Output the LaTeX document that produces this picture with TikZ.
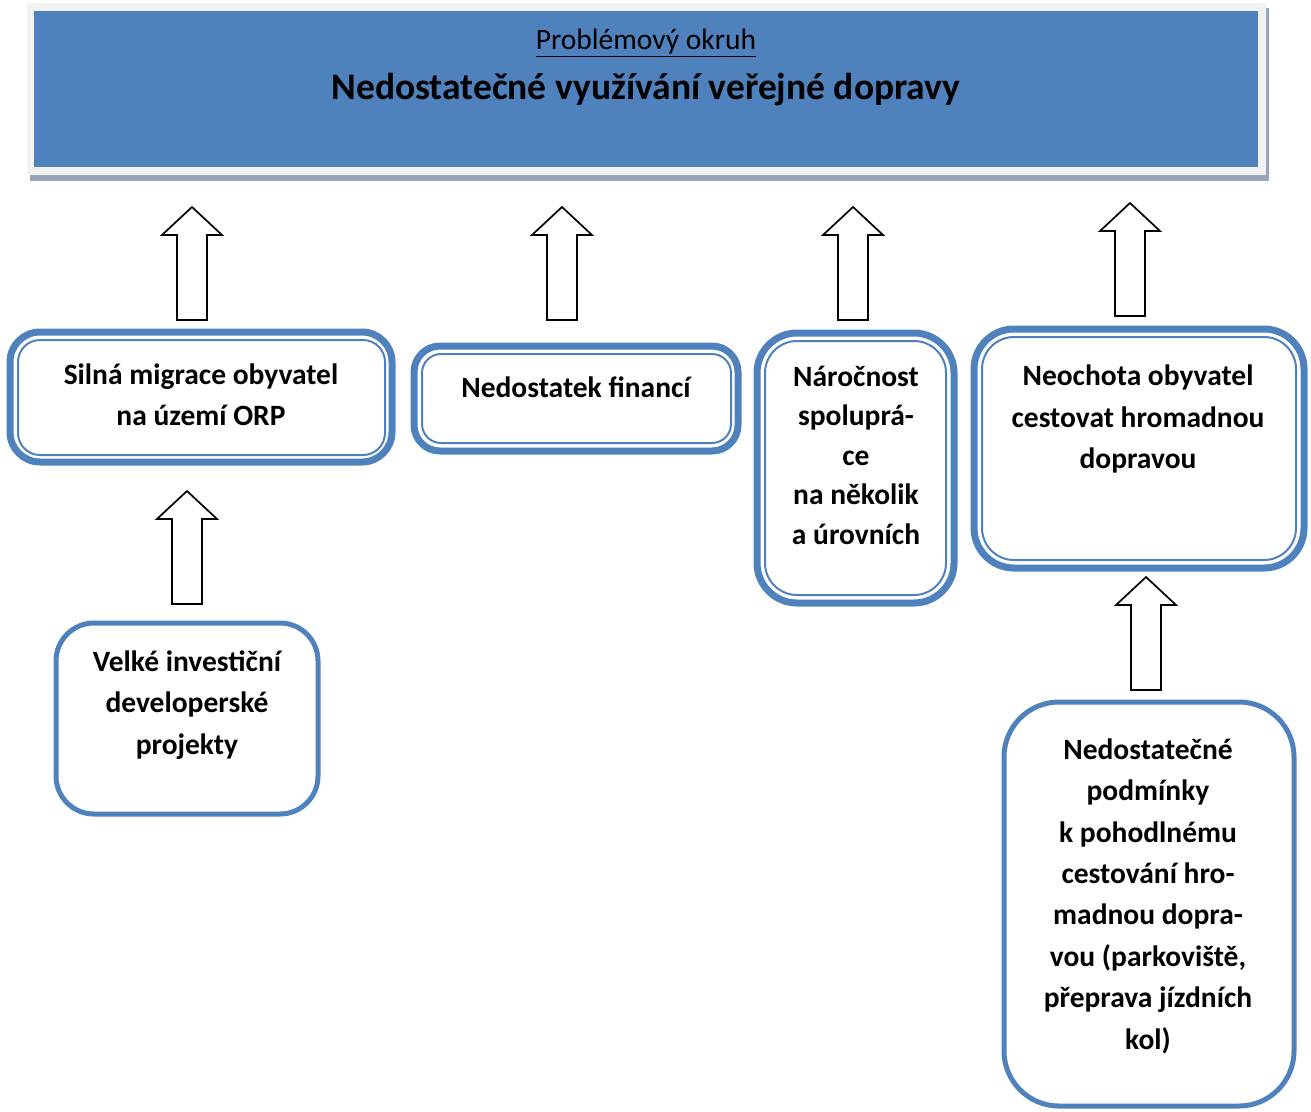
\documentclass[tikz,border=0pt]{standalone}
\usepackage{fontspec}
\setmainfont{Carlito}
\definecolor{boxblue}{HTML}{4F81BD}
\definecolor{bannergray}{HTML}{F2F2F2}
\definecolor{shadowgray}{HTML}{98A6B9}
\begin{document}
\begin{tikzpicture}[x=1pt,y=-1pt,
  thickline/.style={draw=boxblue, line width=7pt},
  thinline/.style={draw=boxblue, line width=2pt},
  singleline/.style={draw=boxblue, line width=5pt},
  boxtext/.style={align=center, inner sep=0pt, font=\bfseries\fontsize{29.5}{41.4}\selectfont},
  uparrow/.pic={\draw[fill=white, line width=1.7pt, line join=miter]
     (-15,0) -- (-15,-85) -- (-30,-85) -- (0,-113) -- (30,-85) -- (15,-85) -- (15,0) -- cycle;}
]
\useasboundingbox (0,0) rectangle (1311,1111);
% banner
\fill[shadowgray] (30,8) rectangle (1269,181);
\fill[bannergray] (27,3) rectangle (1266,175);
\fill[boxblue] (34,11) rectangle (1258,167);
\node[inner sep=0pt, font=\fontsize{29.5}{34}\selectfont] (label) at (646,43) {\underline{Problémový okruh}};
\node[inner sep=0pt, font=\bfseries\fontsize{37.5}{42}\selectfont] (title) at (646,90) {Nedostatečné využívání veřejné dopravy};

% Silna migrace
\draw[thickline, rounded corners=30pt] (10,332) rectangle (392,462);
\draw[thinline, rounded corners=22pt] (18,340) rectangle (385,455);
\node[boxtext] (silna) at (201,395) {Silná migrace obyvatel\\na území ORP};

% Nedostatek financi
\draw[thickline, rounded corners=26pt] (414,346) rectangle (738,451);
\draw[thinline, rounded corners=19pt] (422,354) rectangle (731,443);
\node[boxtext] (financi) at (576,387) {Nedostatek financí};

% Narocnost
\draw[thickline, rounded corners=40pt] (757,333) rectangle (954,603);
\draw[thinline, rounded corners=32pt] (765,341) rectangle (946,595);
\node[boxtext, font=\bfseries\fontsize{29.5}{39.5}\selectfont] (narocnost) at (856,455) {Náročnost\\spoluprá-\\ce\\na několik\\a úrovních};

% Neochota
\draw[thickline, rounded corners=40pt] (974,329) rectangle (1304,568);
\draw[thinline, rounded corners=32pt] (982,337) rectangle (1296,560);
\node[boxtext] (neochota) at (1138,419) {Neochota obyvatel\\cestovat hromadnou\\dopravou};

% Velke investicni
\draw[singleline, rounded corners=38pt] (56,623) rectangle (318,814);
\node[boxtext] (velke) at (187,705) {Velké investiční\\developerské\\projekty};

% Nedostatecne podminky
\draw[singleline, rounded corners=55pt] (1004,702) rectangle (1294,1106);
\node[boxtext] (podminky) at (1148,896) {Nedostatečné\\podmínky\\k pohodlnému\\cestování hro-\\madnou dopra-\\vou (parkoviště,\\přeprava jízdních\\kol)};

% block arrows
\pic (a1) at (192,320) {uparrow};
\pic (a2) at (562,320) {uparrow};
\pic (a3) at (853,320) {uparrow};
\pic (a4) at (1130,316) {uparrow};
\pic (a5) at (187,604) {uparrow};
\pic (a6) at (1146,690) {uparrow};
\end{tikzpicture}
\end{document}
